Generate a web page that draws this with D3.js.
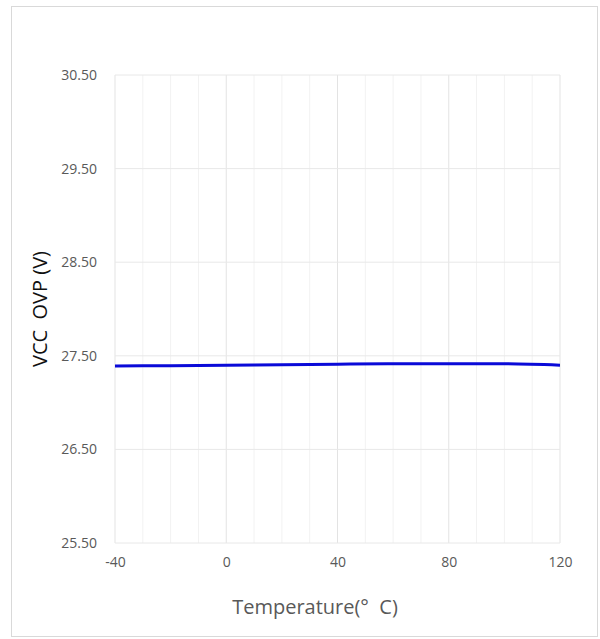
<!DOCTYPE html>
<html>
<head>
<meta charset="utf-8">
<script src="https://cdn.jsdelivr.net/npm/d3@7"></script>
<style>
  body { margin: 0; background: #fff; }
  text { font-family: "Open Sans", "Noto Sans", sans-serif; }
</style>
</head>
<body>
<div id="chart"></div>
<script>
// data
const temps = [-40, -20, 0, 20, 40, 60, 80, 100, 120];
const ovp = [27.39, 27.395, 27.40, 27.405, 27.41, 27.415, 27.415, 27.415, 27.40];
const yTicks = [25.5, 26.5, 27.5, 28.5, 29.5, 30.5];
const xTicks = [-40, 0, 40, 80, 120];

const W = 600, H = 639;
const margin = {top: 75, right: 40, bottom: 96, left: 115};

const svg = d3.select("#chart").append("svg")
    .attr("width", W)
    .attr("height", H);

// outer frame
svg.append("rect")
    .attr("x", 11.5).attr("y", 6.5)
    .attr("width", 586).attr("height", 630)
    .attr("fill", "#fff")
    .attr("stroke", "#d9d9d9");

const x = d3.scaleLinear().domain([-40, 120]).range([margin.left, W - margin.right]);
const y = d3.scaleLinear().domain([25.5, 30.5]).range([H - margin.bottom, margin.top]);

// minor vertical grid, every 10
svg.append("g")
    .selectAll("line")
    .data(d3.range(-30, 120, 10).filter(d => d % 40 !== 0))
    .join("line")
    .attr("x1", d => x(d)).attr("x2", d => x(d))
    .attr("y1", y(25.5)).attr("y2", y(30.5))
    .attr("stroke", "#f2f2f2");

// major grid
svg.append("g")
    .selectAll("line")
    .data(xTicks)
    .join("line")
    .attr("x1", d => x(d)).attr("x2", d => x(d))
    .attr("y1", y(25.5)).attr("y2", y(30.5))
    .attr("stroke", "#e3e3e3");

svg.append("g")
    .selectAll("line")
    .data(yTicks)
    .join("line")
    .attr("x1", x(-40)).attr("x2", x(120))
    .attr("y1", d => y(d)).attr("y2", d => y(d))
    .attr("stroke", "#e8e8e8");

// axes (labels only)
const yAxis = svg.append("g")
    .attr("transform", `translate(${x(-40)},0)`)
    .call(d3.axisLeft(y).tickValues(yTicks).tickFormat(d3.format(".2f")).tickSize(0).tickPadding(18));
yAxis.select(".domain").remove();
yAxis.selectAll("text").attr("fill", "#595959").style("font-size", "14px");

const xAxis = svg.append("g")
    .attr("transform", `translate(0,${y(25.5)})`)
    .call(d3.axisBottom(x).tickValues(xTicks).tickFormat(d => String(d)).tickSize(0).tickPadding(14));
xAxis.select(".domain").remove();
xAxis.selectAll("text").attr("fill", "#595959").style("font-size", "14px");

// data line
const line = d3.line()
    .x((d, i) => x(temps[i]))
    .y(d => y(d))
    .curve(d3.curveMonotoneX);

svg.append("path")
    .datum(ovp)
    .attr("d", line)
    .attr("fill", "none")
    .attr("stroke", "#0a0ad8")
    .attr("stroke-width", 3);

// titles
svg.append("text")
    .attr("x", 315).attr("y", 614)
    .attr("text-anchor", "middle")
    .attr("fill", "#595959")
    .style("font-size", "20px")
    .style("white-space", "pre")
    .text("Temperature(°  C)");

svg.append("text")
    .attr("transform", `translate(47,${(y(25.5) + y(30.5)) / 2}) rotate(-90)`)
    .attr("text-anchor", "middle")
    .attr("fill", "#111")
    .style("font-size", "20px")
    .style("white-space", "pre")
    .text("VCC  OVP (V)");
</script>
</body>
</html>
